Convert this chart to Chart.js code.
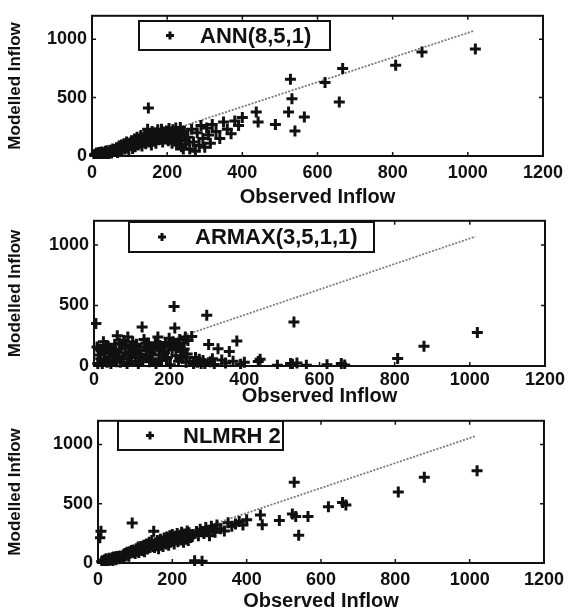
<!DOCTYPE html>
<html>
<head>
<meta charset="utf-8">
<script src="https://cdn.jsdelivr.net/npm/chart.js@4/dist/chart.umd.min.js"></script>
<style>
  html, body { margin: 0; padding: 0; background: #fff; }
  #wrap { position: relative; width: 570px; height: 611px; overflow: hidden; }
  canvas { position: absolute; left: 0; }
</style>
</head>
<body>
<div id="wrap">
  <canvas id="ann-chart" style="top:0px" width="570" height="210"></canvas>
  <canvas id="armax-chart" style="top:205px" width="570" height="210"></canvas>
  <canvas id="nlmrh-chart" style="top:405px" width="570" height="206"></canvas>
</div>
<script>
const xTicks = [0, 200, 400, 600, 800, 1000, 1200];
const yTicks = [0, 500, 1000];

// observed inflow, shared by the three models
const observed = [
  5, 8, 10, 12, 15, 18, 20, 22, 25, 28, 30, 33, 35, 38, 40, 42, 45, 48, 50, 52, 55, 58, 60,
  62, 65, 68, 70, 72, 75, 78, 80, 83, 85, 88, 90, 92, 95, 98, 100, 103, 105, 108, 110,
  113, 115, 118, 120, 123, 125, 128, 130, 133, 135, 138, 140, 143, 145, 148, 150,
  152, 155, 158, 160, 163, 165, 168, 170, 173, 175, 178, 180, 183, 185, 188, 190, 193, 195, 198, 200,
  203, 205, 208, 210, 213, 215, 218, 220, 223, 225, 228, 230, 233, 235, 238, 240, 243, 245, 248, 250,
  255, 260, 265, 270, 275, 280, 285, 290, 295, 300, 305, 310, 315, 320, 330, 340, 350, 360, 370, 380, 390, 400,
  437, 442, 488, 523, 528, 532, 540, 565, 620, 658, 667, 808, 878, 1020
];

const annModelled = [
  10, 4, 18, 25, 8, 30, 15, 6, 35, 20, 28, 12, 40, 22, 45, 30, 18, 50, 38, 25, 60, 42, 55,
  45, 70, 30, 62, 85, 50, 95, 40, 75, 105, 60, 88, 120, 70, 55, 110, 90, 130, 65, 100,
  145, 80, 125, 160, 95, 140, 110, 175, 85, 150, 120, 190, 105, 165, 230, 411,
  120, 180, 95, 210, 150, 130, 200, 110, 175, 225, 140, 190, 160, 230, 120, 205, 170, 145, 215, 180,
  130, 235, 160, 200, 110, 225, 185, 150, 240, 95, 205, 170, 130, 245, 80, 190, 60, 215, 140, 100,
  160, 60, 230, 120, 40, 200, 90, 260, 150, 75, 240, 180, 110, 270, 210, 150, 290, 230, 190, 300, 260, 330,
  377, 291, 269, 377, 657, 491, 214, 334, 630, 463, 749, 777, 891, 915
];

const armaxModelled = [
  351, 157, 20, 90, 140, 60, 130, 10, 200, 45, 110, 170, 30, 160, 75, 140, 15, 120, 95, 50, 180, 120, 35,
  250, 80, 190, 30, 140, 180, 60, 210, 110, 170, 20, 240, 90, 150, 100, 40, 200, 120, 160, 70,
  180, 130, 15, 130, 70, 100, 323, 55, 220, 160, 190, 85, 140, 190, 35, 140,
  110, 60, 150, 130, 190, 20, 180, 240, 90, 170, 150, 45, 125, 100, 110, 195, 60, 70, 160, 230,
  10, 180, 135, 200, 491, 314, 85, 150, 170, 40, 220, 120, 80, 65, 190, 140, 240, 30, 100, 210,
  40, 243, 15, 70, 30, 55, 10, 45, 20, 420, 177, 35, 60, 12, 143, 50, 25, 120, 40, 206, 15, 30,
  37, 55, 6, 20, 15, 363, 25, 6, 11, 20, 8, 63, 163, 277
];

const nlmrhModelled = [
  213, 268, 12, 20, 8, 28, 15, 35, 22, 10, 40, 30, 25, 45, 18, 50, 38, 28, 55, 42, 35, 60, 48,
  50, 55, 70, 48, 80, 62, 90, 75, 58, 95, 85, 105, 337, 110, 90, 80, 120, 100, 135, 88,
  115, 140, 105, 125, 150, 95, 130, 160, 118, 145, 175, 130, 155, 190, 140, 268,
  130, 170, 145, 190, 120, 160, 200, 150, 175, 140, 210, 185, 160, 220, 195, 150, 230, 175, 205, 240,
  185, 160, 225, 200, 250, 180, 215, 235, 195, 260, 210, 175, 245, 225, 200, 270, 190, 255, 230, 215,
  240, 19, 265, 230, 285, 15, 250, 300, 270, 230, 310, 280, 260, 320, 290, 270, 340, 310, 330, 350, 320, 365,
  406, 323, 359, 414, 682, 392, 235, 392, 475, 510, 490, 599, 724, 779
];

// reference line end points
const refX = [0, 1015];
const refY = [0, 1070];

const FONT = "'Liberation Sans', Arial, sans-serif";
const INK = "#111";

const panels = [
  { id: "ann-chart", label: "ANN(8,5,1)", modelled: annModelled,
    left: 92, top: 13, right: 27, xAxisH: 54, tickPad: 6, titlePad: 3,
    legend: { x: 139, y: 21, w: 191, h: 29, mark: 31, text: 61 } },
  { id: "armax-chart", label: "ARMAX(3,5,1,1)", modelled: armaxModelled,
    left: 94, top: 7, right: 25, xAxisH: 49, tickPad: 3, titlePad: 9,
    legend: { x: 129, y: 17, w: 245, h: 30, mark: 33, text: 66 } },
  { id: "nlmrh-chart", label: "NLMRH 2", modelled: nlmrhModelled,
    left: 98, top: 8, right: 22, xAxisH: 48, tickPad: 6, titlePad: 0,
    legend: { x: 118, y: 16, w: 165, h: 29, mark: 32, text: 65 } },
];

// box round the plot with inward tick marks, like matlab axes
const framePlugin = {
  id: "frame",
  afterDraw(chart) {
    const { ctx, chartArea: a, scales } = chart;
    ctx.save();
    ctx.strokeStyle = INK;
    ctx.lineWidth = 2;
    ctx.strokeRect(a.left, a.top, a.right - a.left, a.bottom - a.top);
    ctx.lineWidth = 1.5;
    ctx.beginPath();
    xTicks.forEach((v) => {
      const px = scales.x.getPixelForValue(v);
      ctx.moveTo(px, a.bottom); ctx.lineTo(px, a.bottom - 4);
      ctx.moveTo(px, a.top); ctx.lineTo(px, a.top + 4);
    });
    yTicks.forEach((v) => {
      const py = scales.y.getPixelForValue(v);
      ctx.moveTo(a.left, py); ctx.lineTo(a.left + 4, py);
      ctx.moveTo(a.right, py); ctx.lineTo(a.right - 4, py);
    });
    ctx.stroke();
    ctx.restore();
  },
};

const legendBoxPlugin = {
  id: "legend-box",
  afterDraw(chart, args, opts) {
    const { ctx } = chart;
    const b = opts.box;
    const cy = b.y + b.h / 2;
    ctx.save();
    ctx.fillStyle = "#fff";
    ctx.fillRect(b.x, b.y, b.w, b.h);
    ctx.strokeStyle = INK;
    ctx.lineWidth = 2;
    ctx.strokeRect(b.x, b.y, b.w, b.h);
    ctx.lineWidth = 3;
    ctx.beginPath();
    const mx = b.x + b.mark;
    ctx.moveTo(mx - 4, cy); ctx.lineTo(mx + 4, cy);
    ctx.moveTo(mx, cy - 4); ctx.lineTo(mx, cy + 4);
    ctx.stroke();
    ctx.fillStyle = INK;
    ctx.font = `bold 22px ${FONT}`;
    ctx.textBaseline = "middle";
    ctx.textAlign = "left";
    ctx.fillText(chart.data.datasets[0].label, b.x + b.text, cy + 1);
    ctx.restore();
  },
};

panels.forEach((p) => {
  new Chart(document.getElementById(p.id), {
    type: "scatter",
    data: {
      datasets: [
        {
          label: p.label,
          data: observed.map((x, i) => ({ x, y: p.modelled[i] })),
          pointStyle: "cross",
          pointRadius: 5.5,
          borderWidth: 3,
          borderColor: INK,
          backgroundColor: INK,
          clip: 3,
          order: 1,
        },
        {
          type: "line",
          label: "line",
          data: refX.map((x, i) => ({ x, y: refY[i] })),
          borderColor: "#7a7a7a",
          borderWidth: 1.8,
          borderDash: [2, 1.5],
          pointRadius: 0,
          order: 2,
        },
      ],
    },
    options: {
      responsive: false,
      animation: false,
      layout: { padding: { top: p.top, right: p.right, left: 0, bottom: 0 } },
      plugins: {
        legend: { display: false },
        tooltip: { enabled: false },
        "legend-box": { box: p.legend },
      },
      scales: {
        x: {
          type: "linear",
          min: 0,
          max: 1200,
          afterBuildTicks: (s) => { s.ticks = xTicks.map((v) => ({ value: v })); },
          afterFit: (s) => { s.height = p.xAxisH; },
          grid: { display: false, drawTicks: false },
          border: { display: false },
          ticks: { padding: p.tickPad, color: INK, autoSkip: false, maxRotation: 0,
                   callback: (v) => String(v),
                   font: { family: FONT, size: 18, weight: "bold" } },
          title: { display: true, text: "Observed Inflow", color: INK,
                   font: { family: FONT, size: 20, weight: "bold", lineHeight: 1 },
                   padding: { top: 0, bottom: p.titlePad } },
        },
        y: {
          type: "linear",
          min: 0,
          max: 1200,
          afterBuildTicks: (s) => { s.ticks = yTicks.map((v) => ({ value: v })); },
          afterFit: (s) => { s.width = p.left; },
          grid: { display: false, drawTicks: false },
          border: { display: false },
          ticks: { padding: 5, color: INK, callback: (v) => String(v),
                   font: { family: FONT, size: 18, weight: "bold" } },
          title: { display: true, text: "Modelled Inflow", color: INK,
                   font: { family: FONT, size: 17, weight: "bold", lineHeight: 1 },
                   padding: { top: 7, bottom: 0 } },
        },
      },
    },
    plugins: [framePlugin, legendBoxPlugin],
  });
});
</script>
</body>
</html>
